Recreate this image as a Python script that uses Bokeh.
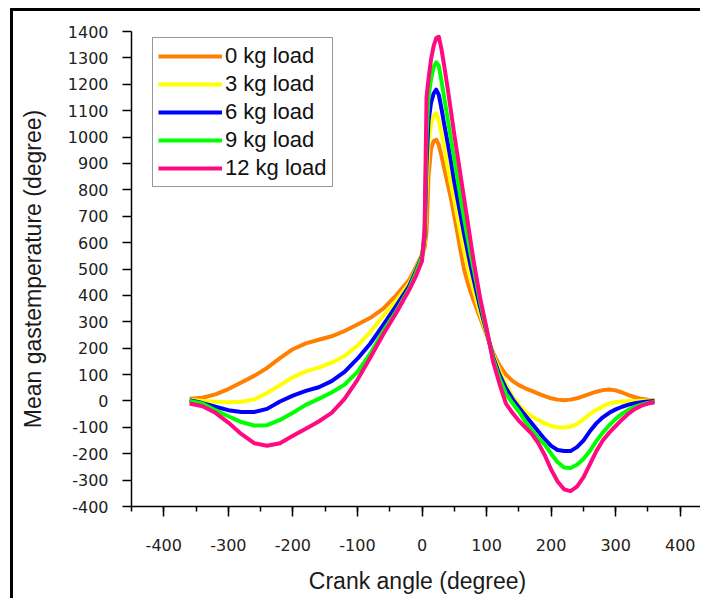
from bokeh.plotting import figure
from bokeh.models import (SingleIntervalTicker, Legend, LegendItem, PrintfTickFormatter,
                          InlineStyleSheet)
from bokeh.embed import file_html
from bokeh.resources import INLINE

# ---------------- data ----------------
crank_angle = [-360, -340, -320, -300, -280, -260, -240, -220, -200, -180, -160, -140,
               -120, -100, -80, -60, -40, -20, -10, 0, 4, 7, 10, 14, 18, 22, 26, 30,
               35, 40, 45, 50, 55, 60, 65, 70, 75, 80, 90, 100, 110, 120, 130, 140,
               150, 160, 170, 180, 190, 200, 210, 220, 230, 240, 250, 260, 270, 280,
               290, 300, 310, 320, 330, 340, 350, 360]

load_0kg = [8, 12, 25, 45, 70, 95, 125, 162, 196, 218, 232, 245,
            265, 290, 315, 350, 400, 458, 505, 555, 580, 640, 850, 955, 985, 990, 970, 930,
            875, 820, 765, 700, 635, 565, 500, 455, 415, 380, 315, 250, 183, 135, 100, 76,
            60, 48, 38, 28, 18, 10, 5, 3, 5, 10, 18, 27, 35, 41,
            43, 40, 32, 22, 14, 8, 5, 4]

load_3kg = [5, 0, -3, -5, -3, 6, 30, 60, 90, 112, 126, 145,
            170, 210, 262, 322, 380, 445, 495, 550, 600, 800, 980, 1050, 1080, 1090, 1065, 1015,
            955, 885, 820, 760, 695, 630, 570, 515, 465, 420, 330, 255, 175, 115, 62, 18,
            -15, -40, -58, -72, -85, -95, -100, -101, -97, -88, -70, -50, -33, -20,
            -10, -5, -2, 0, 0, 1, 2, 3]

load_6kg = [3, -8, -22, -35, -42, -42, -30, -2, 20, 38, 52, 75,
            110, 160, 218, 288, 360, 435, 490, 548, 620, 900, 1060, 1130, 1165, 1180, 1160, 1110,
            1040, 975, 905, 830, 765, 700, 635, 575, 515, 460, 355, 262, 168, 100, 48, 8,
            -25, -55, -85, -115, -145, -170, -186, -190, -190, -175, -150, -115, -85, -62,
            -45, -32, -22, -14, -9, -5, -2, 0]

load_9kg = [0, -10, -35, -58, -80, -93, -92, -72, -45, -15, 8, 32,
            62, 110, 180, 265, 340, 425, 482, 545, 640, 1000, 1150, 1220, 1265, 1283, 1270, 1215,
            1140, 1065, 990, 915, 840, 765, 695, 625, 560, 500, 375, 268, 160, 85, 28, -8,
            -40, -78, -110, -140, -165, -200, -232, -252, -254, -242, -220, -190, -152, -120,
            -92, -68, -48, -33, -22, -14, -8, -4]

load_12kg = [-10, -20, -45, -82, -125, -160, -170, -160, -132, -105, -78, -45,
             8, 80, 165, 253, 333, 420, 470, 530, 650, 1150, 1220, 1295, 1345, 1375, 1380, 1335,
             1260, 1180, 1095, 1010, 930, 850, 770, 690, 610, 530, 390, 275, 150, 65, -10, -45,
             -75, -100, -125, -160, -205, -260, -305, -335, -342, -325, -290, -240, -190, -150,
             -120, -95, -70, -48, -30, -18, -10, -5]

series_labels = ["0 kg load", "3 kg load", "6 kg load", "9 kg load", "12 kg load"]
series_colors = ["#FF8000", "#FFFF00", "#0000FF", "#00FF00", "#FF0A82"]

x_tick_step = 100
y_tick_step = 100

# ---------------- figure ----------------
frame_css = InlineStyleSheet(css="""
:host {
  margin-left: 10px;
  margin-top: 8px;
  border-left: 3px solid #000000;
  border-top: 3px solid #000000;
}
""")

p = figure(width=690, height=590,
           x_range=(-450, 436), y_range=(-400, 1400),
           output_backend="svg", toolbar_location=None,
           min_border_left=118, min_border_right=0,
           min_border_top=20, min_border_bottom=95,
           stylesheets=[frame_css])

p.xgrid.visible = False
p.ygrid.visible = False
p.outline_line_color = None
p.background_fill_color = "white"
p.border_fill_color = "white"

all_series = [load_0kg, load_3kg, load_6kg, load_9kg, load_12kg]
items = []
for ys, lab, col in zip(all_series, series_labels, series_colors):
    r = p.line(crank_angle, ys, line_color=col, line_width=4, line_join="round")
    items.append(LegendItem(label=lab, renderers=[r]))

# axes
xa = p.xaxis[0]
xa.ticker = SingleIntervalTicker(interval=x_tick_step, num_minor_ticks=2)
xa.formatter = PrintfTickFormatter(format="%d")
xa.axis_label = "Crank angle (degree)"
xa.axis_label_text_font = "Liberation Sans"
xa.axis_label_text_font_size = "23px"
xa.axis_label_text_font_style = "normal"
xa.axis_label_text_color = "#1a1a1a"
xa.axis_label_standoff = 14
xa.major_label_text_font = "DejaVu Sans"
xa.major_label_text_font_size = "16px"
xa.major_label_text_color = "#222222"
xa.major_label_standoff = 22
xa.major_tick_out = 10
xa.major_tick_in = 0
xa.minor_tick_out = 5
xa.minor_tick_in = 0
xa.axis_line_width = 1.5
xa.major_tick_line_width = 1.5
xa.minor_tick_line_width = 1.5
xa.axis_line_color = "black"

ya = p.yaxis[0]
ya.ticker = SingleIntervalTicker(interval=y_tick_step, num_minor_ticks=0)
ya.formatter = PrintfTickFormatter(format="%d")
ya.axis_label = "Mean gastemperature (degree)"
ya.axis_label_text_font = "Liberation Sans"
ya.axis_label_text_font_size = "23px"
ya.axis_label_text_font_style = "normal"
ya.axis_label_text_color = "#1a1a1a"
ya.axis_label_standoff = 19
ya.major_label_text_font = "DejaVu Sans"
ya.major_label_text_font_size = "16px"
ya.major_label_text_color = "#222222"
ya.major_label_standoff = 14
ya.major_tick_out = 9
ya.major_tick_in = 0
ya.minor_tick_out = 0
ya.minor_tick_in = 0
ya.axis_line_width = 1.5
ya.major_tick_line_width = 1.5
ya.axis_line_color = "black"

legend = Legend(items=items, location=(21, 319))
legend.label_text_font = "Liberation Sans"
legend.label_text_font_size = "22px"
legend.label_text_color = "#111111"
legend.glyph_width = 64
legend.glyph_height = 22
legend.label_height = 22
legend.label_standoff = 3
legend.spacing = 2
legend.padding = 5
legend.margin = 0
legend.border_line_color = "#333333"
legend.border_line_width = 1.5
legend.background_fill_color = "white"
legend.background_fill_alpha = 1.0
p.add_layout(legend)

open("out.html", "w").write(file_html(p, INLINE))
